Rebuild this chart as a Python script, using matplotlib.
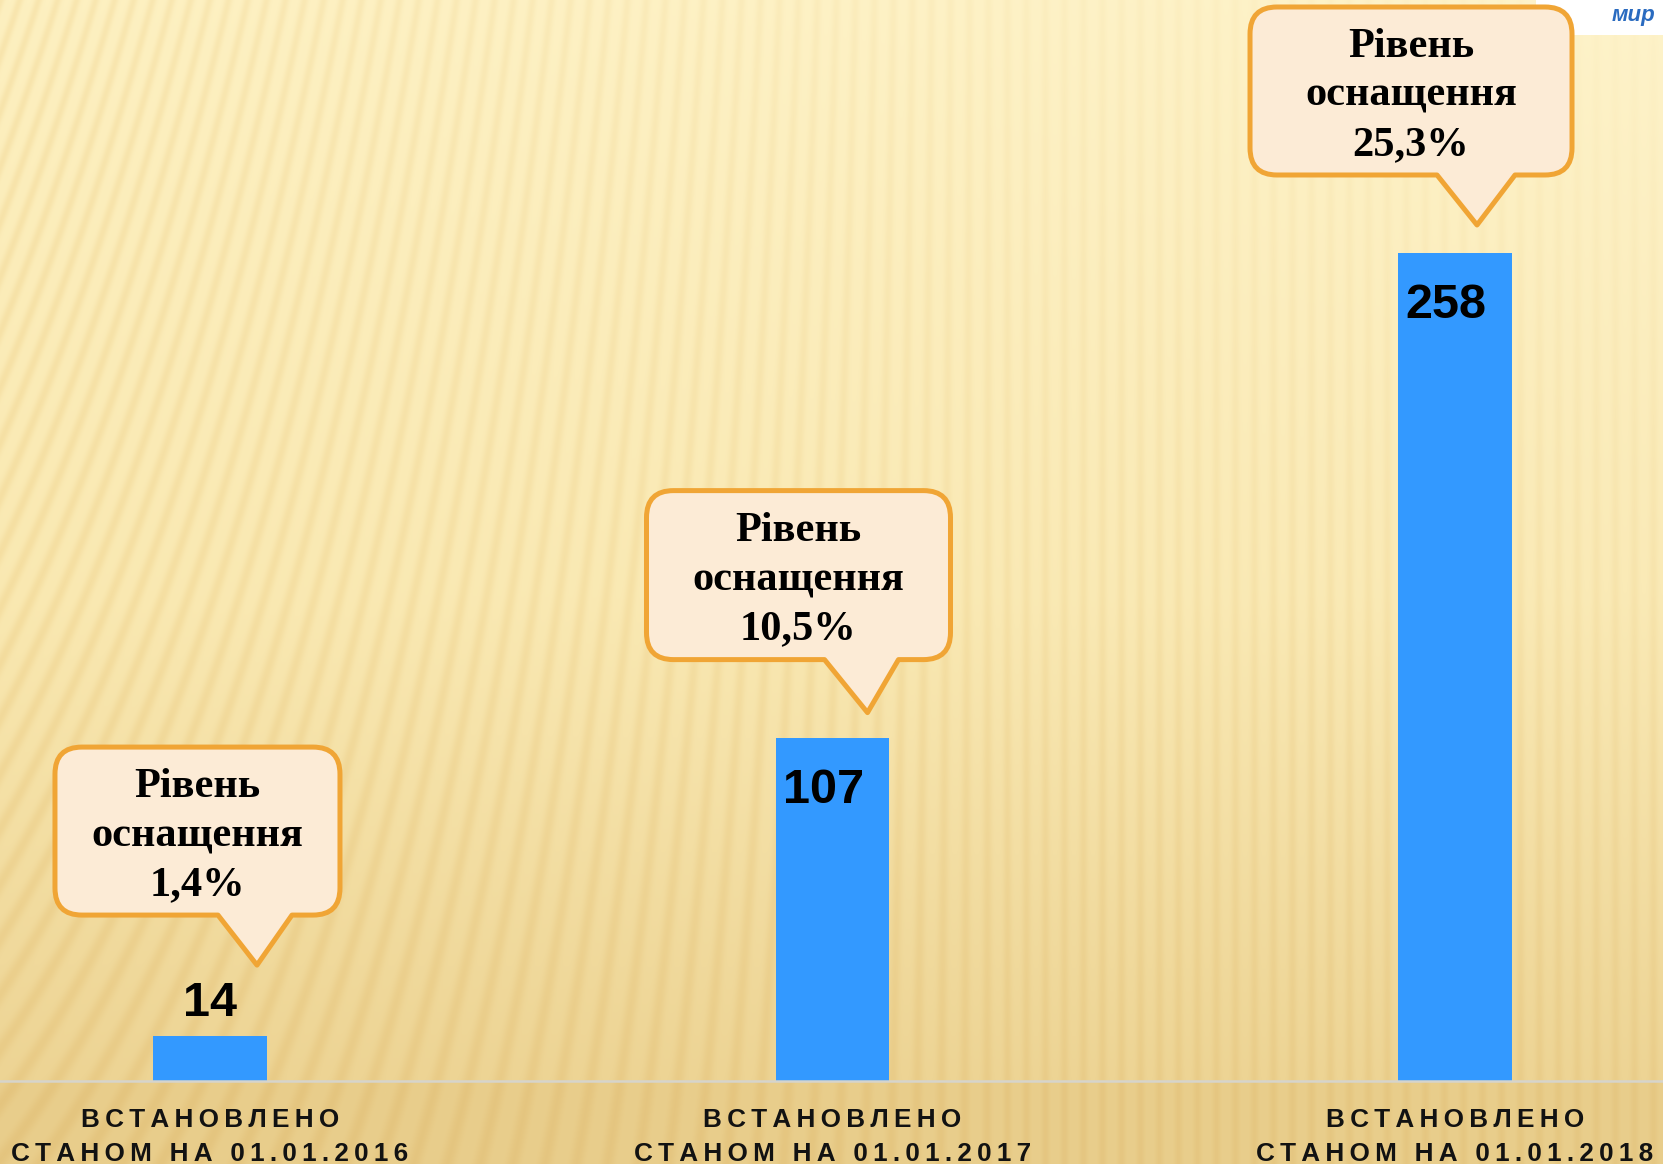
import numpy as np
import matplotlib
matplotlib.use("Agg")
import matplotlib.pyplot as plt
from matplotlib.path import Path
from matplotlib.patches import PathPatch, Rectangle

# ---------------- data ----------------
categories = ["ВСТАНОВЛЕНО\nСТАНОМ НА 01.01.2016",
              "ВСТАНОВЛЕНО\nСТАНОМ НА 01.01.2017",
              "ВСТАНОВЛЕНО\nСТАНОМ НА 01.01.2018"]
values = [14, 107, 258]
levels = ["1,4%", "10,5%", "25,3%"]
callout_title = "Рівень\nоснащення"

# ---------------- layout ----------------
W, H = 1663, 1164
fig = plt.figure(figsize=(W / 100, H / 100), dpi=100)

ax = fig.add_axes([0, 0, 1, 1], zorder=1)
ax.patch.set_alpha(0)
ax.axis("off")
x = np.arange(len(values))
ax.bar(x, values, width=0.183, color="#3399FF", zorder=2)
ax.set_xlim(-0.3373, 2.3341)
ax.set_ylim(-25.86, 336.83)
ax.axhline(0, color="#D6D4CC", lw=1.8, zorder=3)

ov = fig.add_axes([0, 0, 1, 1], zorder=2)
ov.set_xlim(0, W)
ov.set_ylim(H, 0)
ov.axis("off")
ov.patch.set_alpha(0)


def to_px(xx, yy):
    d = ax.transData.transform((xx, yy))
    return d[0], H - d[1]


base_y = to_px(0, 0)[1]

# ---------------- background ----------------
yy, xx = np.mgrid[0:H, 0:W].astype(float)
fy = yy / H
fx = xx / W
top = np.array([254, 243, 202], float)
mid = np.array([250, 234, 182], float)
bot = np.array([237, 212, 148], float)
t = np.clip(yy / base_y, 0, 1)[..., None]
base = np.where(t < 0.55, top + (mid - top) * (t / 0.55),
                mid + (bot - mid) * ((t - 0.55) / 0.45))
below = (yy > base_y)[..., None]
base = np.where(below, np.array([233, 206, 140], float), base)
base = base - (np.array([1, 3, 10], float) * (1 - fx)[..., None] * (1 - t))

ang = np.deg2rad(19.0) * np.clip(1 - xx / 1000.0, 0, 1) ** 1.3
u = xx + np.tan(ang) * yy
s = ((1 + np.cos(2 * np.pi * u / 19.0)) / 2) ** 2
c = 0.055 * (1 - 0.85 * fx * np.clip(1 - fy * 1.5, 0, 1))
c = c * (0.75 + 0.25 * np.clip(1 - fx, 0, 1))
dark = np.array([0.35, 0.8, 1.7])
img = base * (1 - (c * s)[..., None] * dark)
img = np.clip(img, 0, 255) / 255.0

bg = fig.add_axes([0, 0, 1, 1], zorder=0)
bg.imshow(img, extent=(0, W, H, 0), aspect="auto", interpolation="bilinear")
bg.set_xlim(0, W)
bg.set_ylim(H, 0)
bg.axis("off")

# white corner with logo fragment
ov.add_patch(Rectangle((1536, 0), W - 1536, 35, facecolor="white", edgecolor="none", zorder=1))
ov.text(1612, 15, "мир", color="#2A6BC0", fontsize=16, fontweight="bold", style="italic",
        family=["Liberation Sans", "DejaVu Sans"], ha="left", va="center", zorder=2)

# ---------------- value labels ----------------
sans = ["Liberation Sans", "DejaVu Sans"]
serif = ["Liberation Serif", "DejaVu Serif"]
bw = 0.183
for i, v in enumerate(values):
    cx, ty = to_px(i, v)
    lx, _ = to_px(i - bw / 2, v)
    if v > 50:
        ov.text(lx + 7, ty + 65, str(v), fontsize=35, fontweight="bold", family=sans,
                color="black", ha="left", va="baseline", zorder=4)
    else:
        ov.text(cx, ty - 20, str(v), fontsize=35, fontweight="bold", family=sans,
                color="black", ha="center", va="baseline", zorder=4)

# ---------------- category labels ----------------
def spaced(s):
    return "\u2009".join(s)

for i, cat in enumerate(categories):
    cx, _ = to_px(i, 0)
    l1, l2 = cat.split("\n")
    ov.text(cx, base_y + 46, spaced(l1), fontsize=18.8, fontweight="bold", family=sans,
            color="#121212", ha="center", va="baseline", zorder=4)
    ov.text(cx, base_y + 80, spaced(l2), fontsize=18.8, fontweight="bold", family=sans,
            color="#121212", ha="center", va="baseline", zorder=4)

# ---------------- callouts ----------------
tip_off = [(47, -71), (35, -25), (22, -28)]          # tip relative to bar top centre (px)
box_lr = [(-202, 83), (-221, 83), (-227, 95)]          # box left/right relative to tip
base_lr = [(-39, 35), (-43, 31), (-40, 38)]           # pointer base relative to tip
box_tb = [(-218, -50), (-222, -53), (-218, -50)]      # box top/bottom relative to tip


def callout_path(L, R, T, B, r, bl, br, tx, ty):
    M, Ln, C3, CL = Path.MOVETO, Path.LINETO, Path.CURVE3, Path.CLOSEPOLY
    verts = [(L + r, T), (R - r, T), (R, T), (R, T + r), (R, B - r), (R, B), (R - r, B),
             (br, B), (tx, ty), (bl, B), (L + r, B), (L, B), (L, B - r), (L, T + r),
             (L, T), (L + r, T), (L + r, T)]
    codes = [M, Ln, C3, C3, Ln, C3, C3, Ln, Ln, Ln, Ln, C3, C3, Ln, C3, C3, CL]
    return Path(verts, codes)


for i, v in enumerate(values):
    cx, ty = to_px(i, v)
    tx, tyy = cx + tip_off[i][0], ty + tip_off[i][1]
    L, R = tx + box_lr[i][0], tx + box_lr[i][1]
    T, B = tyy + box_tb[i][0], tyy + box_tb[i][1]
    bl, br = tx + base_lr[i][0], tx + base_lr[i][1]
    p = callout_path(L, R, T, B, 27, bl, br, tx, tyy)
    ov.add_patch(PathPatch(p, facecolor="#FCEBD6", edgecolor="#F0A535", lw=3.6,
                           joinstyle="round", zorder=5))
    ov.text((L + R) / 2, (T + B) / 2 + 5, callout_title + "\n" + levels[i], fontsize=30.5,
            fontweight="bold", family=serif, color="black", ha="center", va="center",
            linespacing=1.38, zorder=6)

fig.savefig("out.png", dpi=100)
